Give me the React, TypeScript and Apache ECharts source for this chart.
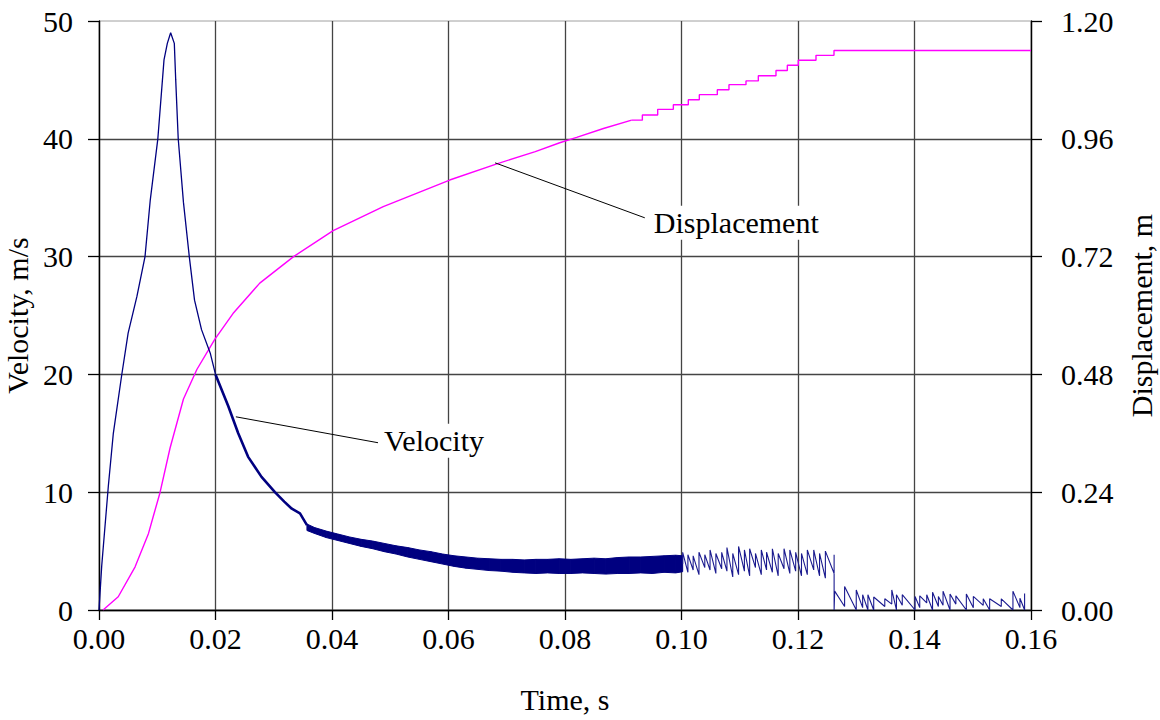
import { useEffect, useRef } from "react";
import * as echarts from "echarts";

// ---------- data ----------
const timeTickLabels = ["0.00", "0.02", "0.04", "0.06", "0.08", "0.10", "0.12", "0.14", "0.16"];

// velocity, thin rising/peak part (s, m/s)
const velRiseT = [0, 0.00046, 0.0016, 0.00246, 0.0039, 0.005, 0.0065, 0.0079, 0.0088, 0.0101, 0.01116, 0.01173, 0.0123, 0.01293, 0.01317, 0.0136, 0.0145, 0.0155, 0.0164, 0.0176, 0.0191, 0.02];
const velRiseV = [0, 3.7, 10.5, 15.0, 19.95, 23.5, 26.6, 30.0, 34.8, 40.0, 46.7, 48.1, 49.0, 48.1, 45.0, 40.0, 34.6, 30.0, 26.3, 23.8, 21.8, 20.0];

// velocity, thickening decay part
const velDecayT = [0.02, 0.0222, 0.0239, 0.0256, 0.0279, 0.0302, 0.0318, 0.0331, 0.0345, 0.0357];
const velDecayV = [20.0, 17.3, 15.0, 13.0, 11.3, 10.0, 9.2, 8.6, 8.2, 7.2];

// velocity, dense noisy band (lower / upper envelope)
const bandT = [0.0357, 0.037, 0.039, 0.041, 0.043, 0.045, 0.047, 0.049, 0.051, 0.053, 0.055, 0.057, 0.059, 0.061, 0.063, 0.065, 0.067, 0.069, 0.071, 0.073, 0.075, 0.077, 0.079, 0.081, 0.083, 0.085, 0.087, 0.089, 0.091, 0.093, 0.095, 0.097, 0.099, 0.1002];
const bandLow = [6.75, 6.5, 6.15, 5.9, 5.65, 5.4, 5.2, 4.95, 4.75, 4.5, 4.3, 4.1, 3.9, 3.7, 3.55, 3.45, 3.35, 3.3, 3.2, 3.15, 3.1, 3.15, 3.1, 3.1, 3.15, 3.1, 3.05, 3.1, 3.1, 3.15, 3.1, 3.2, 3.15, 3.25];
const bandHigh = [7.3, 7.0, 6.7, 6.45, 6.2, 6.0, 5.85, 5.65, 5.45, 5.3, 5.1, 4.95, 4.75, 4.6, 4.5, 4.4, 4.35, 4.3, 4.3, 4.25, 4.3, 4.3, 4.35, 4.3, 4.35, 4.4, 4.35, 4.45, 4.5, 4.5, 4.55, 4.6, 4.65, 4.6];

// velocity, sparse spikes 0.10 - 0.126
const spikeT = [0.1002, 0.1011, 0.102, 0.103, 0.104, 0.1049, 0.1059, 0.1069, 0.1078, 0.1088, 0.1098, 0.1108, 0.1117, 0.1127, 0.1137, 0.1146, 0.1156, 0.1166, 0.1176, 0.1186, 0.1196, 0.1206, 0.1216, 0.1227, 0.1237, 0.1247, 0.1262];
const spikeLow = [3.9, 3.2, 3.4, 3.0, 3.6, 3.4, 3.1, 3.5, 3.3, 2.8, 3.0, 3.3, 2.9, 3.6, 3.0, 3.4, 3.2, 2.9, 3.5, 3.1, 3.3, 2.9, 3.0, 3.4, 2.9, 2.7, 3.1];
const spikeHigh = [4.9, 4.7, 4.6, 4.9, 4.7, 5.1, 4.8, 4.9, 5.3, 4.8, 5.4, 5.1, 5.2, 4.8, 5.1, 4.9, 5.2, 4.8, 5.2, 5.1, 4.9, 4.8, 5.1, 5.1, 4.8, 5.0, 4.7];

// velocity after the drop, 0.126 - 0.16
const tailT = [0.1263, 0.128, 0.13, 0.1311, 0.132, 0.133, 0.1349, 0.1361, 0.1369, 0.1379, 0.1401, 0.1409, 0.1421, 0.1431, 0.1441, 0.1449, 0.1461, 0.1471, 0.1489, 0.1501, 0.1518, 0.1529, 0.1549, 0.1569, 0.1581, 0.1589];
const tailLow = [0, 0.3, 0, 0.2, 0, 0, 0.3, 0.5, 0, 0.4, 0, 0.2, 0.6, 0, 0.3, 0.4, 0, 0.5, 0, 0.2, 0.4, 0, 0.3, 0, 0.2, 0];
const tailHigh = [1.6, 2.0, 1.7, 1.3, 1.3, 1.1, 0.95, 1.7, 1.3, 1.3, 1.15, 1.2, 1.3, 1.5, 1.15, 1.6, 1.35, 1.2, 1.35, 1.15, 0.95, 0.95, 0.95, 1.6, 1.0, 1.4];

// displacement, smooth part (s, m)
const dispT = [0.0007, 0.0033, 0.0062, 0.0085, 0.0093, 0.01047, 0.0122, 0.0145, 0.0168, 0.0199, 0.023, 0.0276, 0.0334, 0.0402, 0.0488, 0.0602, 0.0683, 0.0749, 0.0791, 0.082, 0.0866, 0.09144];
const dispV = [0, 0.027, 0.088, 0.156, 0.19, 0.239, 0.33, 0.43, 0.49, 0.552, 0.604, 0.666, 0.72, 0.773, 0.822, 0.876, 0.909, 0.934, 0.952, 0.963, 0.981, 0.998];

// displacement, stepped part
const stepT = [0.09144, 0.09328, 0.09591, 0.0986, 0.10117, 0.10306, 0.10615, 0.10815, 0.11107, 0.11319, 0.11622, 0.11817, 0.12005, 0.12309, 0.12618, 0.16];
const stepV = [0.998, 1.0085, 1.02, 1.0295, 1.0397, 1.0499, 1.06, 1.0703, 1.078, 1.0886, 1.099, 1.11, 1.12, 1.13, 1.14, 1.14];

// annotation anchors [time, value]
const velNoteFrom = [0.0235, 16.4];
const velNoteTo = [0.0479, 14.2];
const dispNoteFrom = [0.068, 0.911];
const dispNoteTo = [0.0937, 0.799];

const NAVY = "#000080";
const MAGENTA = "#ff00ff";
const FONT = '"Liberation Serif", "Times New Roman", serif';
const FS = 30;

export default function App() {
  const ref = useRef<HTMLDivElement>(null);

  useEffect(() => {
    if (!ref.current) return;
    const chart = echarts.init(ref.current, null, { renderer: "svg" });

    const zip = (a: number[], b: number[]) => a.map((t, i) => [t, b[i]]);
    const spikes: number[][] = [];
    spikeT.forEach((t, i) => {
      spikes.push([t, spikeLow[i]]);
      spikes.push([t, spikeHigh[i]]);
    });
    spikes.push([spikeT[spikeT.length - 1], 0]);
    tailT.forEach((t, i) => {
      spikes.push([t, tailLow[i]]);
      spikes.push([t, tailHigh[i]]);
    });
    const bandData = bandT.map((t, i) => [t, bandLow[i], bandHigh[i]]);

    chart.setOption({
      animation: false,
      backgroundColor: "#fff",
      textStyle: { fontFamily: FONT },
      grid: {
        left: 99,
        right: 129,
        top: 21,
        bottom: 110,
        show: true,
        borderColor: "#a0a0a0",
        borderWidth: 1,
        containLabel: false,
        outerBoundsMode: "none",
      },
      xAxis: {
        type: "value",
        min: 0,
        max: 0.16,
        interval: 0.02,
        name: "Time, s",
        nameLocation: "middle",
        nameGap: 74,
        nameTextStyle: { fontFamily: FONT, fontSize: FS, color: "#000" },
        axisLine: { show: true, onZero: false, lineStyle: { color: "#000", width: 1.3 } },
        axisTick: { show: true, length: 10, lineStyle: { color: "#000", width: 1.3 } },
        axisLabel: {
          fontFamily: FONT,
          fontSize: FS,
          color: "#000",
          margin: 13,
          formatter: (v: number) => timeTickLabels[Math.round(v / 0.02)] ?? v.toFixed(2),
        },
        splitLine: { show: true, lineStyle: { color: "#444", width: 1.3 } },
      },
      yAxis: [
        {
          type: "value",
          min: 0,
          max: 50,
          interval: 10,
          name: "Velocity, m/s",
          nameLocation: "middle",
          nameGap: 54,
          nameRotate: 90,
          nameTextStyle: { fontFamily: FONT, fontSize: FS, color: "#000" },
          axisLine: { show: true, onZero: false, lineStyle: { color: "#000", width: 1.3 } },
          axisTick: { show: true, length: 11, lineStyle: { color: "#000", width: 1.3 } },
          axisLabel: { fontFamily: FONT, fontSize: FS, color: "#000", margin: 26 },
          splitLine: { show: true, showMaxLine: false, lineStyle: { color: "#444", width: 1.3 } },
        },
        {
          type: "value",
          min: 0,
          max: 1.2,
          interval: 0.24,
          position: "right",
          name: "Displacement, m",
          nameLocation: "middle",
          nameGap: 95,
          nameRotate: 90,
          nameTextStyle: { fontFamily: FONT, fontSize: FS, color: "#000" },
          axisLine: { show: true, onZero: false, lineStyle: { color: "#000", width: 1.3 } },
          axisTick: { show: true, length: 11, lineStyle: { color: "#000", width: 1.3 } },
          axisLabel: { fontFamily: FONT, fontSize: FS, color: "#000", margin: 30, formatter: (v: number) => v.toFixed(2) },
          splitLine: { show: false },
        },
      ],
      series: [
        {
          name: "Displacement",
          type: "line",
          yAxisIndex: 1,
          showSymbol: false,
          data: zip(dispT, dispV),
          lineStyle: { color: MAGENTA, width: 1.4 },
          z: 3,
        },
        {
          name: "Displacement steps",
          type: "line",
          yAxisIndex: 1,
          step: "end",
          showSymbol: false,
          data: zip(stepT, stepV),
          lineStyle: { color: MAGENTA, width: 1.4 },
          z: 3,
        },
        {
          name: "Velocity",
          type: "line",
          showSymbol: false,
          data: zip(velRiseT, velRiseV),
          lineStyle: { color: NAVY, width: 1.3 },
          z: 4,
        },
        {
          name: "Velocity decay",
          type: "line",
          showSymbol: false,
          data: zip(velDecayT, velDecayV),
          lineStyle: { color: NAVY, width: 2.6 },
          z: 4,
        },
        {
          name: "Velocity band",
          type: "custom",
          data: bandData,
          encode: { x: 0, y: [1, 2] },
          z: 4,
          renderItem: (params: any, api: any) => {
            const i = params.dataIndex;
            if (i >= bandT.length - 1) return null;
            const pts = [
              api.coord([bandT[i], bandLow[i]]),
              api.coord([bandT[i], bandHigh[i]]),
              api.coord([bandT[i + 1], bandHigh[i + 1]]),
              api.coord([bandT[i + 1], bandLow[i + 1]]),
            ];
            return {
              type: "polygon",
              shape: { points: pts },
              style: { fill: NAVY, stroke: NAVY, lineWidth: 1 },
            };
          },
        },
        {
          name: "Velocity spikes",
          type: "line",
          showSymbol: false,
          data: spikes,
          lineStyle: { color: "#1a1a8f", width: 1.1 },
          z: 4,
        },
      ],
    });

    const px = (p: number[], yi: number) => chart.convertToPixel({ xAxisIndex: 0, yAxisIndex: yi }, p) as number[];
    const v0 = px(velNoteFrom, 0);
    const v1 = px(velNoteTo, 0);
    const d0 = px(dispNoteFrom, 1);
    const d1 = px(dispNoteTo, 1);
    const textStyle = (text: string) => ({
      text,
      font: `${FS}px ${FONT}`,
      fill: "#000",
      align: "left",
      verticalAlign: "middle",
      backgroundColor: "#fff",
      padding: [2, 3],
    });
    chart.setOption({
      graphic: [
        { type: "line", z: 10, shape: { x1: v0[0], y1: v0[1], x2: v1[0], y2: v1[1] }, style: { stroke: "#000", lineWidth: 1 } },
        { type: "text", z: 10, x: v1[0] + 3, y: v1[1] - 2, style: textStyle("Velocity") },
        { type: "line", z: 10, shape: { x1: d0[0], y1: d0[1], x2: d1[0], y2: d1[1] }, style: { stroke: "#000", lineWidth: 1 } },
        { type: "text", z: 10, x: d1[0] + 6, y: d1[1] + 5, style: textStyle("Displacement") },
      ],
    });

    return () => chart.dispose();
  }, []);

  return <div ref={ref} style={{ position: "fixed", left: 0, top: 0, width: 1160, height: 720 }} />;
}
